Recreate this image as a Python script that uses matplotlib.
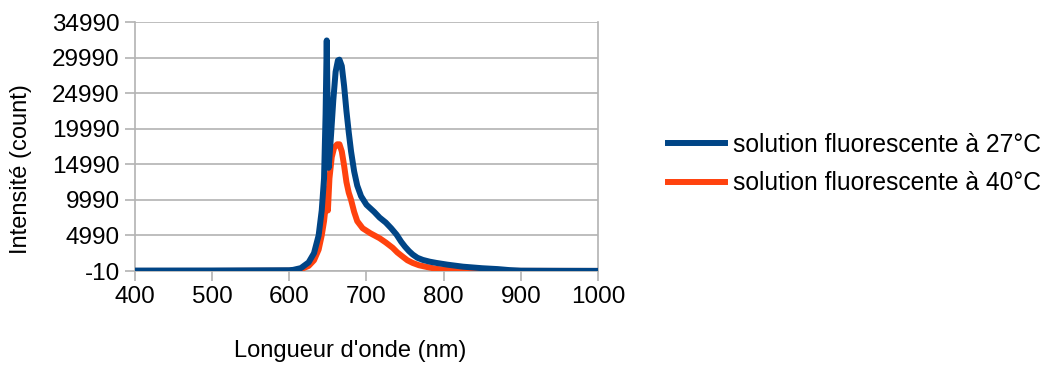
import matplotlib
matplotlib.use("Agg")
import matplotlib.pyplot as plt

# spectra (wavelength nm -> counts)
wl_27 = [400, 500, 600, 605, 615, 625, 632, 638, 642, 645, 647, 648.5, 650, 651,
         654, 657, 660, 663, 665, 668, 671, 674, 677, 680, 684, 688, 693, 700,
         705, 710, 717, 725, 732, 739, 745, 750, 755, 760, 766, 773, 782, 791,
         805, 825, 850, 870, 885, 900, 950, 1000]
int_27 = [50, 60, 100, 150, 400, 1200, 2500, 5000, 8500, 13000, 22000, 32400,
          20000, 14500, 19000, 24000, 28000, 29600, 29700, 28800, 26000, 22500,
          19500, 16800, 14000, 12000, 10500, 9300, 8800, 8300, 7500, 6800, 6000,
          5100, 4100, 3400, 2800, 2300, 1850, 1550, 1300, 1120, 880, 600, 380,
          260, 120, 40, 20, 10]

wl_40 = [400, 500, 600, 605, 615, 625, 632, 638, 642, 645, 647, 648.5, 650, 652,
         655, 658, 662, 665, 668, 671, 674, 677, 680, 684, 688, 695, 705, 717,
         725, 734, 740, 747, 753, 760, 768, 778, 790, 804, 830, 860, 1000]
int_40 = [0, 0, 30, 80, 250, 700, 1500, 3000, 5000, 7000, 9000, 11500, 8500,
          13000, 16000, 17300, 17800, 17800, 16800, 14800, 12500, 11000, 10000,
          8300, 7000, 6000, 5300, 4600, 4000, 3250, 2600, 2000, 1500, 1120, 800,
          560, 300, 140, 50, 10, 0]

x_ticks = [400, 500, 600, 700, 800, 900, 1000]
y_ticks = [-10, 4990, 9990, 14990, 19990, 24990, 29990, 34990]

plt.rcParams['font.family'] = ['Liberation Sans', 'DejaVu Sans']
plt.rcParams['axes.unicode_minus'] = False

fig = plt.figure(figsize=(10.48, 3.65), dpi=100)
ax = fig.add_axes([0.1288, 0.2575, 0.4418, 0.6822])

ax.plot(wl_40, int_40, color="#ff420e", lw=4.3, solid_joinstyle="round",
        label="solution fluorescente à 40°C", zorder=3)
ax.plot(wl_27, int_27, color="#004586", lw=4.3, solid_joinstyle="round",
        label="solution fluorescente à 27°C", zorder=4)

ax.set_xlim(400, 1000)
ax.set_ylim(-10, 34990)
ax.set_xticks(x_ticks)
ax.set_yticks(y_ticks)
ax.tick_params(labelsize=17.5, color="#b3b3b3", length=7, width=1.2,
               direction="out", pad=4)
ax.yaxis.grid(True, color="#b3b3b3", lw=1.2)
ax.set_axisbelow(True)
for s in ax.spines.values():
    s.set_color("#b3b3b3")
    s.set_linewidth(1.2)
ax.spines["top"].set_visible(False)

ax.set_xlabel("Longueur d'onde (nm)", fontsize=17)
ax.xaxis.set_label_coords(0.464, -0.278)
ax.set_ylabel("Intensité (count)", fontsize=17)
ax.yaxis.set_label_coords(-0.222, 0.41)

h, l = ax.get_legend_handles_labels()
fig.legend(h[::-1], l[::-1], loc="center left", bbox_to_anchor=(0.6374, 0.551),
           frameon=False, fontsize=17.7, handlelength=2.32, handletextpad=0.33,
           labelspacing=0.6, borderaxespad=0, borderpad=0)

fig.savefig("out.png", dpi=100)
